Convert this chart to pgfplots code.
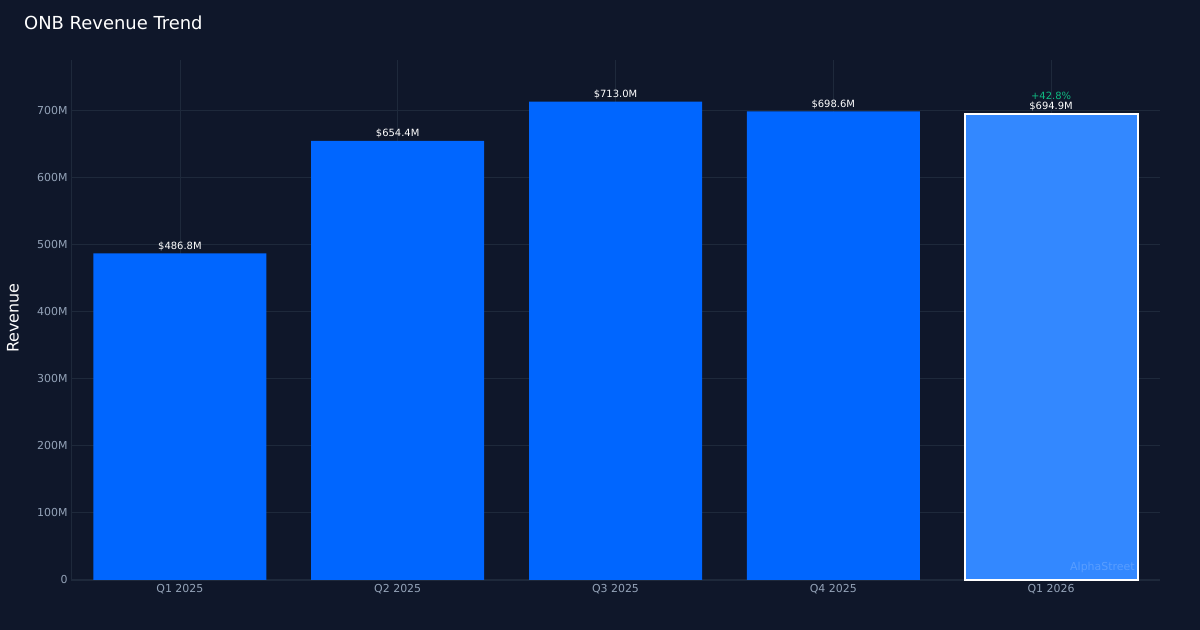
\documentclass[border=0pt]{standalone}
\usepackage{pgfplots}
\pgfplotsset{compat=1.18}
\usepackage{fontspec}
\setmainfont{DejaVu Sans}
\definecolor{bg}{HTML}{0F172A}
\definecolor{gridc}{HTML}{1E293B}
\definecolor{tickc}{HTML}{94A3B8}
\definecolor{barc}{HTML}{0066FF}
\definecolor{lastc}{HTML}{3388FF}
\definecolor{greenc}{HTML}{10B981}
\begin{document}
\begin{tikzpicture}[x=1bp,y=1bp]
\fill[bg] (0,0) rectangle (1200,630);
\useasboundingbox (0,0) rectangle (1200,630);
\begin{axis}[
  at={(71bp,50bp)}, anchor=south west,
  scale only axis, width=1089bp, height=520bp,
  xmin=-0.5, xmax=4.5, ymin=0, ymax=775,
  xtick={0,1,2,3,4},
  xticklabels={Q1 2025,Q2 2025,Q3 2025,Q4 2025,Q1 2026},
  ytick={0,100,200,300,400,500,600,700},
  yticklabels={0,100M,200M,300M,400M,500M,600M,700M},
  /pgf/number format/assume math mode=true,
  major tick length=0pt,
  ticklabel style={font=\fontsize{11}{13}\selectfont, text=tickc},
  xticklabel style={yshift=-1bp},
  yticklabel style={xshift=0bp},
  axis lines*=left,
  axis line style={draw=gridc, -, line width=1bp},
  grid=major,
  major grid style={draw=gridc, line width=0.8bp},
  clip=false,
]
\addplot[ybar, bar width=173bp, bar shift=0pt, fill=barc, draw=none,
  nodes near coords={\$\pgfmathprintnumber[fixed,precision=1,fixed zerofill,assume math mode=true]{\pgfplotspointmeta}M},
  every node near coord/.append style={font=\fontsize{10}{12}\selectfont, text=white, yshift=-1bp}]
  coordinates {(0,486.8) (1,654.4) (2,713.0) (3,698.6)};
\addplot[ybar, bar width=173bp, bar shift=0pt, fill=lastc, draw=white, line width=2bp,
  nodes near coords={\$\pgfmathprintnumber[fixed,precision=1,fixed zerofill,assume math mode=true]{\pgfplotspointmeta}M},
  every node near coord/.append style={font=\fontsize{10}{12}\selectfont, text=white, yshift=-2bp}]
  coordinates {(4,694.9)};
\node[font=\fontsize{10}{12}\selectfont, text=greenc, anchor=base, inner sep=1bp] at (axis cs:4,694.9) [yshift=14bp] {+42.8\%};
\node[font=\fontsize{11}{13}\selectfont, text=white, text opacity=0.18, anchor=south east] at (axis cs:4.4,5) {AlphaStreet};
\end{axis}
\node[anchor=base west, inner sep=0pt, font=\fontsize{18}{21}\selectfont, text=white] at (24,600) {ONB Revenue Trend};
\node[rotate=90, font=\fontsize{16}{19}\selectfont, text=white] at (13,312) {Revenue};
\end{tikzpicture}
\end{document}
